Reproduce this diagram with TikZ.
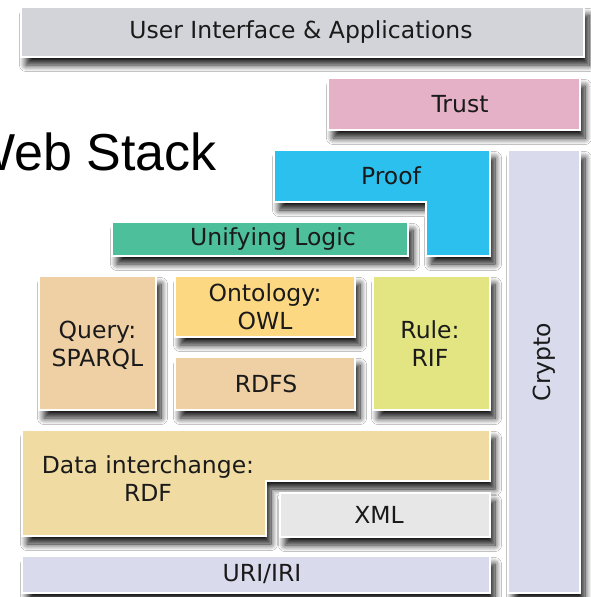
\documentclass[tikz,border=0pt]{standalone}
\usepackage{fontspec}
\setmainfont{DejaVu Sans}
\newfontfamily\titlefont{Liberation Sans}
\usetikzlibrary{shadows.blur}
\definecolor{uicol}{HTML}{D3D4D9}
\definecolor{trustcol}{HTML}{E4B1C6}
\definecolor{proofcol}{HTML}{2BC0EE}
\definecolor{cryptocol}{HTML}{D9DBEC}
\definecolor{logiccol}{HTML}{4DBF9B}
\definecolor{querycol}{HTML}{EFCFA4}
\definecolor{owlcol}{HTML}{FDD882}
\definecolor{rdfscol}{HTML}{EFCFA4}
\definecolor{rulecol}{HTML}{E3E583}
\definecolor{datacol}{HTML}{F0DCA3}
\definecolor{xmlcol}{HTML}{E7E7E7}
\definecolor{uricol}{HTML}{D9DBEC}
\definecolor{txtcol}{HTML}{1A1A1A}
\begin{document}
\begin{tikzpicture}[x=1pt,y=-1pt,
  layer/.style={draw=white, line width=1.2pt,
    blur shadow={shadow xshift=5pt, shadow yshift=-8pt, shadow blur radius=6.5pt, shadow opacity=90, shadow blur steps=12}},
  blk/.style={layer, inner sep=0pt, outer sep=0pt},
  lbl/.style={font=\fontsize{23.5}{28}\selectfont, text=txtcol, align=center, inner sep=0pt}]
\useasboundingbox (0,0) rectangle (591,597);
\clip (0,0) rectangle (591,597);
\fill[white] (0,0) rectangle (591,597);

% title
\node[font=\titlefont\fontsize{52}{60}\selectfont, anchor=base east, inner sep=0pt] (title) at (217,170) {Web Stack};

% top layers
\node[blk, fill=uicol, minimum width=563pt, minimum height=50pt] (ui) at (302.5,32) {};
\node[lbl] (uit) at (301,32) {User Interface \& Applications};
\node[blk, fill=trustcol, minimum width=252pt, minimum height=52pt] (trust) at (454,104) {};
\node[lbl] (trustt) at (460,104) {Trust};

% crypto
\node[blk, fill=cryptocol, minimum width=72pt, minimum height=443pt] (crypto) at (544,371.5) {};
\node[lbl, rotate=90] (cryptot) at (544,362) {Crypto};

% proof (L shape)
\path[layer, fill=proofcol] (274,150) -- (490,150) -- (490,256) -- (426,256) -- (426,202) -- (274,202) -- cycle;
\node[lbl] (prooft) at (391,176) {Proof};

% unifying logic
\node[blk, fill=logiccol, minimum width=296pt, minimum height=34pt] (logic) at (260,239) {};
\node[lbl] (logict) at (273,239) {Unifying Logic};

% middle row
\node[blk, fill=querycol, minimum width=117pt, minimum height=134pt] (query) at (97.5,343) {};
\node[lbl] (queryt) at (97.5,345) {Query:\\SPARQL};
\node[blk, fill=owlcol, minimum width=180pt, minimum height=61pt] (owl) at (265,306.5) {};
\node[lbl] (owlt) at (265,307) {Ontology:\\OWL};
\node[blk, fill=rdfscol, minimum width=180pt, minimum height=53pt] (rdfs) at (265,383.5) {};
\node[lbl] (rdfst) at (266,383.5) {RDFS};
\node[blk, fill=rulecol, minimum width=117pt, minimum height=134pt] (rule) at (431.5,343) {};
\node[lbl] (rulet) at (430,344) {Rule:\\RIF};

% data interchange (L shape)
\path[layer, fill=datacol] (22,430) -- (490,430) -- (490,481) -- (266,481) -- (266,536) -- (22,536) -- cycle;
\node[lbl] (datat) at (148,479) {Data interchange:\\RDF};

% xml
\node[blk, fill=xmlcol, minimum width=210pt, minimum height=44pt] (xml) at (385,515) {};
\node[lbl] (xmlt) at (379,515) {XML};

% uri
\node[blk, fill=uricol, minimum width=468pt, minimum height=37pt] (uri) at (256,574.5) {};
\node[lbl] (urit) at (262,574.5) {URI/IRI};
\end{tikzpicture}
\end{document}
